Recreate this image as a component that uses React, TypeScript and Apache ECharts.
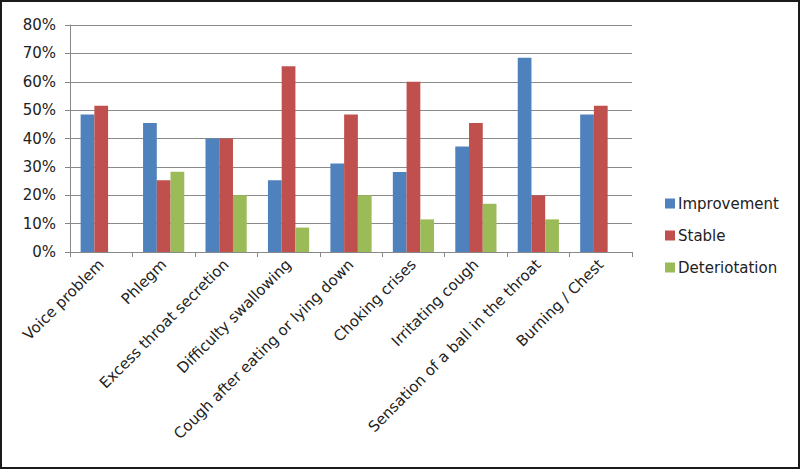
import React, { useEffect, useRef } from "react";
import * as echarts from "echarts";

const categories = [
  "Voice problem",
  "Phlegm",
  "Excess throat secretion",
  "Difficulty swallowing",
  "Cough after eating or lying down",
  "Choking crises",
  "Irritating cough",
  "Sensation of a ball in the throat",
  "Burning / Chest",
];
const improvement = [48.5, 45.5, 40, 25.3, 31.2, 28.2, 37.2, 68.5, 48.5];
const stable = [51.5, 25.3, 40, 65.5, 48.5, 60, 45.5, 20, 51.5];
const deterioration = [0, 28.3, 20, 8.6, 20, 11.5, 17, 11.5, 0];
const yTicks = [0, 10, 20, 30, 40, 50, 60, 70, 80];

export default function App() {
  const ref = useRef<HTMLDivElement>(null);
  useEffect(() => {
    if (!ref.current) return;
    const chart = echarts.init(ref.current, null, { renderer: "svg" });
    const font = "DejaVu Sans";
    chart.setOption({
      animation: false,
      backgroundColor: "#ffffff",
      textStyle: { fontFamily: font },
      grid: { left: 70, right: 168, top: 25, bottom: 217, containLabel: false },
      legend: {
        orient: "vertical",
        left: 660,
        top: 191,
        itemWidth: 10,
        itemHeight: 10,
        itemGap: 17,
        icon: "rect",
        textStyle: { fontFamily: font, fontSize: 15, color: "#222", padding: [0, 0, 0, -2] },
        data: ["Improvement", "Stable", "Deteriotation"],
      },
      graphic: [
        {
          type: "rect",
          shape: { x: 1, y: 1, width: 798, height: 467 },
          style: { fill: "none", stroke: "#1a1a1a", lineWidth: 2 },
          silent: true,
        },
      ],
      xAxis: {
        type: "category",
        data: categories,
        boundaryGap: true,
        axisLine: { lineStyle: { color: "#888", width: 1 } },
        axisTick: { show: true, length: 5, alignWithLabel: false, lineStyle: { color: "#888" } },
        axisLabel: {
          rotate: 45,
          interval: 0,
          fontSize: 15,
          color: "#222",
          fontFamily: font,
          margin: 10,
        },
      },
      yAxis: {
        type: "value",
        min: yTicks[0],
        max: yTicks[yTicks.length - 1],
        interval: 10,
        axisLine: { show: true, lineStyle: { color: "#888", width: 1 } },
        axisTick: { show: true, length: 5, lineStyle: { color: "#888" } },
        splitLine: { lineStyle: { color: "#8a8a8a", width: 1 } },
        axisLabel: {
          fontSize: 15,
          color: "#222",
          fontFamily: font,
          margin: 14,
          formatter: (v: number) => `${v}%`,
        },
      },
      series: [
        {
          name: "Improvement",
          type: "bar",
          data: improvement,
          itemStyle: { color: "#4F81BD" },
          barGap: "0%",
          barCategoryGap: "34%",
        },
        { name: "Stable", type: "bar", data: stable, itemStyle: { color: "#C0504D" } },
        { name: "Deteriotation", type: "bar", data: deterioration, itemStyle: { color: "#9BBB59" } },
      ],
    });
    return () => chart.dispose();
  }, []);
  return (
    <div
      ref={ref}
      style={{ position: "fixed", left: 0, top: 0, width: 800, height: 469 }}
    />
  );
}
